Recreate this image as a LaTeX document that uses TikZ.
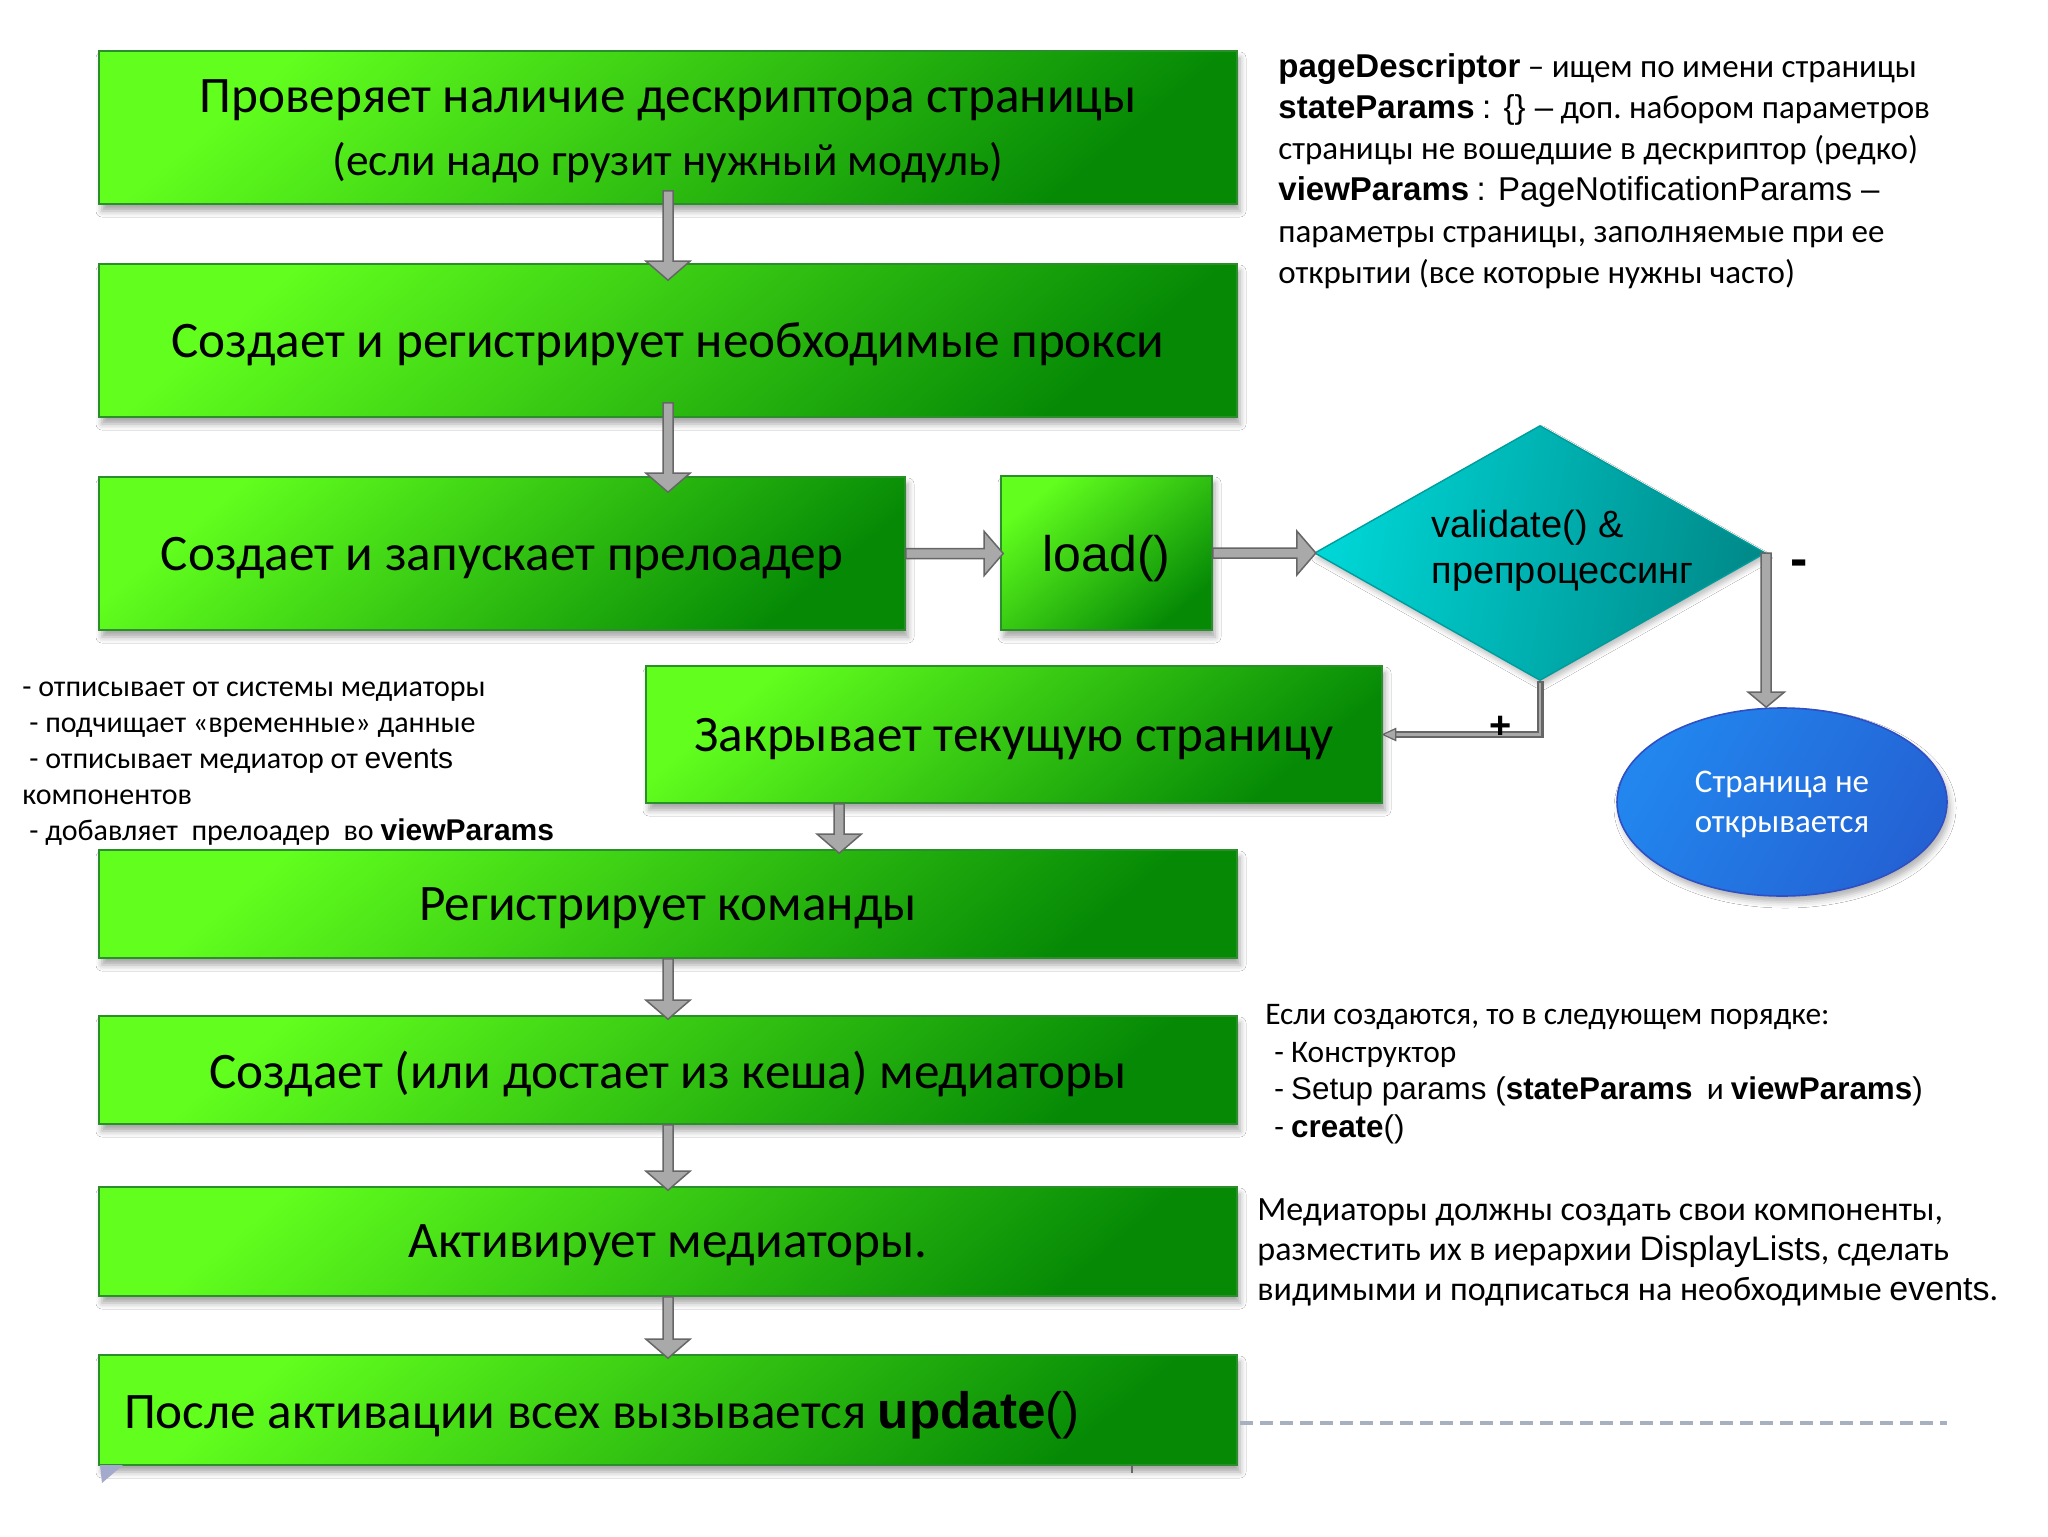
\documentclass[tikz,border=0pt]{standalone}
\usepackage{fontspec}
\setmainfont{Carlito}
\newfontfamily\arialf{Liberation Sans}
\usetikzlibrary{calc,shapes.geometric,shadows.blur}
\definecolor{gL}{HTML}{62FF1E}
\definecolor{gM}{HTML}{3EDC12}
\definecolor{gD}{HTML}{068A06}
\definecolor{gB}{HTML}{2A8F2A}
\definecolor{cL}{HTML}{00D6D6}
\definecolor{cM}{HTML}{00F0F0}
\definecolor{cD}{HTML}{008A8A}
\definecolor{cB}{HTML}{009C9C}
\definecolor{eL}{HTML}{2286EE}
\definecolor{eM}{HTML}{07A8F7}
\definecolor{eD}{HTML}{2462D4}
\definecolor{eB}{HTML}{2F4FC4}
\definecolor{agL}{HTML}{A9A9A9}
\definecolor{agD}{HTML}{666666}
\definecolor{dashc}{HTML}{A7B0BE}
\definecolor{triC}{HTML}{A3AACB}
\newcommand\ar[1]{{\arialf #1}}
\newcommand\arb[1]{{\arialf\bfseries #1}}
\newcommand\blockarr[5]{%
  \coordinate (bacc) at ($(#2)!#5!(#1)$);
  \draw[arrowst] ($(#1)!#3!90:(#2)$) -- ($(bacc)!#3!-90:(#1)$) -- ($(bacc)!#4!-90:(#1)$) -- (#2) -- ($(bacc)!#4!90:(#1)$) -- ($(bacc)!#3!90:(#1)$) -- ($(#1)!#3!-90:(#2)$) -- cycle;}
\begin{document}
\begin{tikzpicture}[x=0.5pt,y=-0.5pt,
  gbox/.style={draw=gB, line width=0.8pt, top color=gL, middle color=gM, bottom color=gD, shading angle=40,
    blur shadow={shadow xshift=1.5pt, shadow yshift=-3.5pt, shadow blur radius=3pt, shadow opacity=35},
    inner sep=0pt, align=center, text depth=0pt, font=\fontsize{25.6}{31.5}\selectfont},
  diabox/.style={diamond, draw=cB, line width=0.7pt, left color=cL, middle color=cM, right color=cD, shading angle=80,
    inner sep=0pt, blur shadow={shadow xshift=1pt, shadow yshift=-2.5pt, shadow blur radius=2.5pt, shadow opacity=25}},
  ellbox/.style={ellipse, draw=eB, line width=0.8pt, left color=eL, middle color=eM, right color=eD, shading angle=60,
    inner sep=0pt, align=center, text=white, font=\fontsize{16.5}{20}\selectfont, text depth=0pt,
    blur shadow={shadow xshift=1.5pt, shadow yshift=-3pt, shadow blur radius=3pt, shadow opacity=30}},
  arrowst/.style={draw=agD, fill=agL, line width=0.75pt, line join=miter},
  note/.style={inner sep=0pt, align=left, anchor=north west}
]
\useasboundingbox[fill=white] (0,0) rectangle (2048,1536);

% main boxes
\node[gbox, minimum width=569pt, minimum height=76.5pt] (b1) at (668,127.5)
  {Проверяет наличие дескриптора страницы\\{\fontsize{22.7}{31.5}\selectfont (если надо грузит нужный модуль)}};
\node[gbox, minimum width=569pt, minimum height=76.5pt] (b2) at (668,340.5)
  {Создает и регистрирует необходимые прокси};
\node[gbox, minimum width=403pt, minimum height=76.5pt] (b3) at (502,553.5)
  {Создает и запускает прелоадер};
\node[gbox, minimum width=105.5pt, minimum height=77pt, font=\arialf\fontsize{25}{30}\selectfont] (load) at (1106.5,553)
  {load()};
\node[diabox, minimum width=225.5pt, minimum height=127.5pt] (dia) at (1540,553) {};
\node[inner sep=0pt, align=left, anchor=west, font=\arialf\fontsize{19}{23}\selectfont] (diat) at (1431,551)
  {validate() \&\\препроцессинг};
\node[ellbox, minimum width=165pt, minimum height=94pt] (ell) at (1782,802)
  {Страница не\\открывается};
\node[gbox, minimum width=368pt, minimum height=68.5pt] (close) at (1014,734.5)
  {Закрывает текущую страницу};
\node[gbox, minimum width=569pt, minimum height=54pt] (reg) at (668,904)
  {Регистрирует команды};
\node[gbox, minimum width=569pt, minimum height=54pt] (create) at (668,1070)
  {Создает (или достает из кеша) медиаторы};
\node[gbox, minimum width=569pt, minimum height=54.5pt] (act) at (668,1241.5)
  {Активирует медиаторы.};
\node[gbox, minimum width=569pt, minimum height=55pt] (last) at (668,1410)
  {\makebox[544pt][l]{После активации всех вызывается \arb{update}\ar{()}}};

% small marks under the last box
\fill[triC] (100,1465) -- (123,1465) -- (102,1483) -- cycle;
\draw[agD, line width=0.6pt] (1132,1465) -- (1132,1473);

% dashed line
\coordinate (dashend) at (1947,1423);
\draw[dashc, line width=2pt, dash pattern=on 6.5pt off 3.5pt] ($(last.east)+(2,13)$) -- (dashend);

% block arrows
\coordinate (a1s) at ($(b1.south)+(0,-14)$);
\coordinate (a1e) at ($(b2.north)+(0,17)$);
\blockarr{a1s}{a1e}{2.5pt}{11pt}{9.5pt}
\coordinate (a2s) at ($(b2.south)+(0,-15)$);
\coordinate (a2e) at ($(b2.south |- b3.north)+(0,16)$);
\blockarr{a2s}{a2e}{2.5pt}{11pt}{9.5pt}
\coordinate (a3s) at (b3.east);
\coordinate (a3e) at ($(load.west |- b3.east)+(3,0)$);
\blockarr{a3s}{a3e}{2.5pt}{11pt}{9.5pt}
\coordinate (a4s) at (load.east);
\coordinate (a4e) at ($(dia.west)+(2,0)$);
\blockarr{a4s}{a4e}{2.5pt}{11pt}{9.5pt}
\coordinate (a5s) at (dia.east);
\coordinate (a5e) at (dia.east |- ell.north);
\blockarr{a5s}{a5e}{2.5pt}{9pt}{7.5pt}
\coordinate (a6s) at ($(close.south west)+(194,0)$);
\coordinate (a6e) at ($(a6s |- reg.north)+(0,4)$);
\blockarr{a6s}{a6e}{2.5pt}{11pt}{9.5pt}
\coordinate (a7e) at ($(create.north)+(0,4)$);
\blockarr{reg.south}{a7e}{2.5pt}{11pt}{9.5pt}
\coordinate (a8e) at ($(act.north)+(0,4)$);
\blockarr{create.south}{a8e}{2.5pt}{11pt}{9.5pt}
\coordinate (a9e) at ($(last.north)+(0,4)$);
\blockarr{act.south}{a9e}{2.5pt}{11pt}{9.5pt}

% plus branch
\coordinate (pe) at ($(close.east)+(12,0)$);
\draw[agD, line width=3.5pt, line join=miter] (dia.south) |- (pe);
\draw[agL, line width=1.4pt, line join=miter] ($(dia.south)+(0,2)$) |- (pe);
\draw[arrowst, line width=0.6pt] (close.east) -- ($(close.east)+(13,-6)$) -- ($(close.east)+(13,6)$) -- cycle;

% branch labels
\node[inner sep=0pt, font=\arialf\bfseries\fontsize{19}{20}\selectfont] (plus) at (1501,727) {+};
\node[inner sep=0pt, font=\arialf\bfseries\fontsize{26}{28}\selectfont] (minus) at (1799,568) {-};

% notes
\node[note, font=\fontsize{16.5}{20.6}\selectfont] (ntop) at (1278,53)
  {\arb{pageDescriptor} – ищем по имени страницы\\
   \arb{stateParams} \ar{: \{\} –} доп.\ набором параметров\\
   страницы не вошедшие в дескриптор (редко)\\
   \arb{viewParams} \ar{: PageNotificationParams –}\\
   параметры страницы, заполняемые при ее\\
   открытии (все которые нужны часто)};
\node[note, font=\fontsize{15}{17.9}\selectfont] (nleft) at (22,682)
  {- отписывает от системы медиаторы\\
   \hspace*{3.5pt}- подчищает «временные» данные\\
   \hspace*{3.5pt}- отписывает медиатор от \ar{events}\\
   компонентов\\
   \hspace*{3.5pt}- добавляет\ \ прелоадер\ \ во \arb{viewParams}};
\node[note, font=\fontsize{15.7}{18.8}\selectfont] (norder) at (1265,1004)
  {Если создаются, то в следующем порядке:\\
   \hspace*{4.5pt}- Конструктор\\
   \hspace*{4.5pt}- \ar{Setup params (}\arb{stateParams}\ \ и \arb{viewParams}\ar{)}\\
   \hspace*{4.5pt}- \arb{create}\ar{()}};
\node[note, font=\fontsize{17}{20}\selectfont] (nmed) at (1257,1198)
  {Медиаторы должны создать свои компоненты,\\
   разместить их в иерархии \ar{DisplayLists}, сделать\\
   видимыми и подписаться на необходимые \ar{events}.};
\end{tikzpicture}
\end{document}
